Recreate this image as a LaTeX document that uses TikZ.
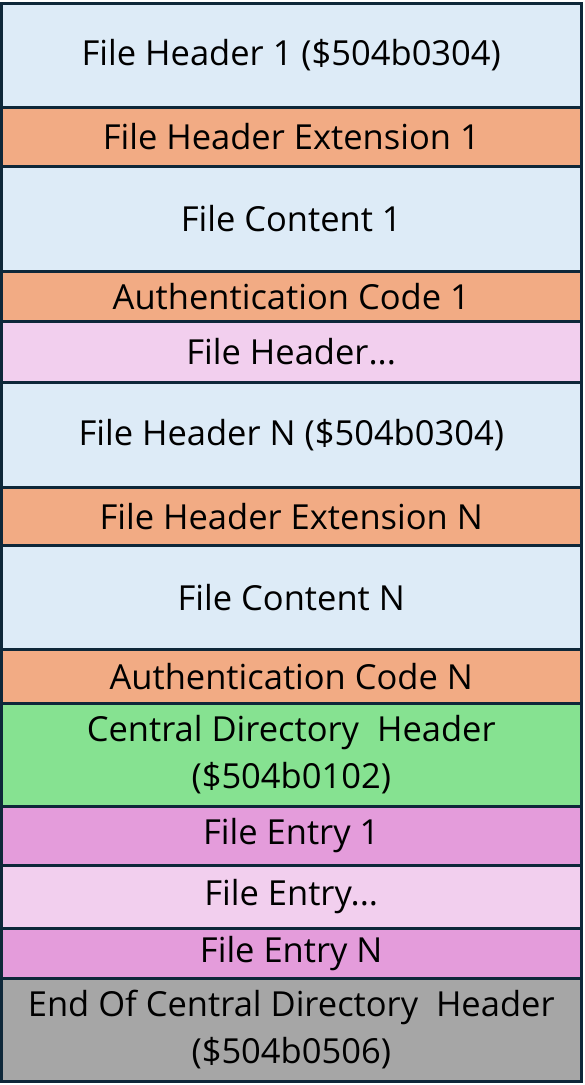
\documentclass[tikz,border=0pt]{standalone}
\usepackage{fontspec}
\setmainfont{Open Sans}
\definecolor{bluefill}{HTML}{DDEBF7}
\definecolor{orangefill}{HTML}{F2AB84}
\definecolor{pinkfill}{HTML}{F2CFEE}
\definecolor{greenfill}{HTML}{86E291}
\definecolor{magentafill}{HTML}{E49CDB}
\definecolor{grayfill}{HTML}{A6A6A6}
\definecolor{edge}{HTML}{0E2739}
\tikzset{
  blk/.style={draw=edge, line width=3pt, inner sep=0pt, minimum width=579.5pt, anchor=north,
    align=center, font=\fontsize{34.5}{47}\selectfont, text=black},
}
\begin{document}
\begin{tikzpicture}[x=1pt,y=-1pt]
\useasboundingbox (0,0) rectangle (585,1085);
\node[blk, fill=bluefill, minimum height=104.5pt] (h1) at (291.25,1.5) {File Header 1 (\$504b0304)};
\node[blk, fill=orangefill, minimum height=59pt] (e1) at (291.25,106) {File Header Extension 1};
\node[blk, fill=bluefill, minimum height=105pt] (c1) at (291.25,165) {File Content 1};
\node[blk, fill=orangefill, minimum height=50pt] (a1) at (291.25,270) {Authentication Code 1};
\node[blk, fill=pinkfill, minimum height=61pt] (hd) at (291.25,320) {File Header...};
\node[blk, fill=bluefill, minimum height=105pt] (hn) at (291.25,381) {File Header N (\$504b0304)};
\node[blk, fill=orangefill, minimum height=58pt] (en) at (291.25,486) {File Header Extension N};
\node[blk, fill=bluefill, minimum height=104pt] (cn) at (291.25,544) {File Content N};
\node[blk, fill=orangefill, minimum height=53.5pt] (an) at (291.25,648) {Authentication Code N};
\node[blk, fill=greenfill, minimum height=103.5pt] (cd) at (291.25,701.5) {Central Directory\ \ Header\\(\$504b0102)};
\node[blk, fill=magentafill, minimum height=59pt] (f1) at (291.25,805) {File Entry 1};
\node[blk, fill=pinkfill, minimum height=63pt] (fd) at (291.25,864) {File Entry...};
\node[blk, fill=magentafill, minimum height=50pt] (fn) at (291.25,927) {File Entry N};
\node[blk, fill=grayfill, minimum height=103pt] (eo) at (291.25,977) {End Of Central Directory\ \ Header\\(\$504b0506)};
\end{tikzpicture}
\end{document}
